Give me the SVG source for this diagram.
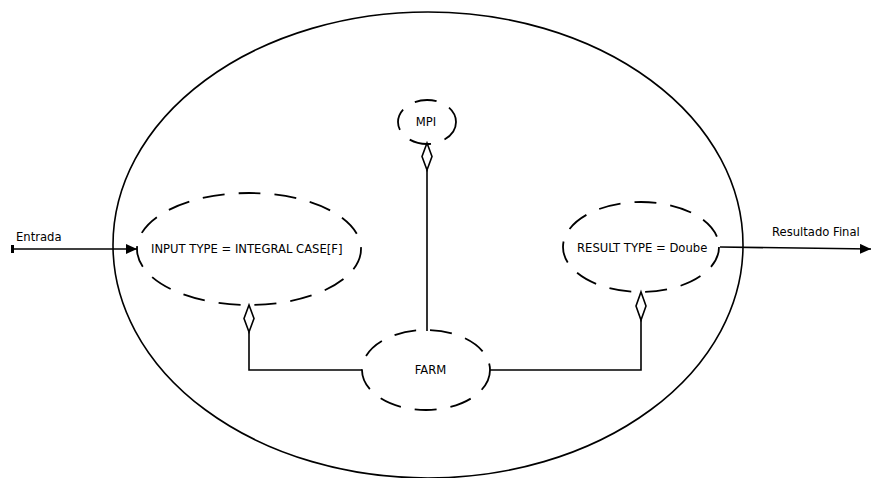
<svg xmlns="http://www.w3.org/2000/svg" width="871" height="478" viewBox="0 0 871 478">
  <style>
    .solid { fill: none; stroke: #000; stroke-width: 1.6; }
    .dash { fill: none; stroke: #000; stroke-width: 1.8; stroke-dasharray: 22 14; }
    .line { fill: none; stroke: #000; stroke-width: 1.6; }
    .dia { fill: #fff; stroke: #000; stroke-width: 1.6; }
    .lbl { font-family: "DejaVu Sans", sans-serif; font-size: 11.6px; fill: #000; }
  </style>
  <defs>
    <marker id="arrow" markerWidth="12" markerHeight="10" refX="11" refY="5" orient="auto" markerUnits="userSpaceOnUse">
      <path d="M0,0 L11,5 L0,10 Z" fill="#000"/>
    </marker>
  </defs>
  <rect width="871" height="478" fill="#fff"/>

  <!-- enclosing boundary -->
  <g id="boundary">
    <ellipse class="solid" cx="428" cy="245" rx="315" ry="233"/>
  </g>

  <g id="connectors">
    <!-- Entrada -->
    <line class="line" x1="12" y1="249" x2="137" y2="249" marker-end="url(#arrow)"/>
    <rect x="11" y="245" width="3" height="8" fill="#000"/>
    <text class="lbl" x="16" y="241">Entrada</text>
    <!-- Resultado Final -->
    <line class="line" x1="720" y1="247" x2="871" y2="249" marker-end="url(#arrow)"/>
    <text class="lbl" x="772" y="236">Resultado Final</text>
    <!-- MPI to FARM -->
    <line class="line" x1="427" y1="170" x2="427" y2="331"/>
    <path class="dia" d="M427,143 L432,156.5 L427,170 L422,156.5 Z"/>
    <!-- INPUT to FARM -->
    <polyline class="line" points="249,332 249,370 362,370"/>
    <path class="dia" d="M249,305 L254,318.5 L249,332 L244,318.5 Z"/>
    <!-- RESULT to FARM -->
    <polyline class="line" points="641,320 641,370 490,370"/>
    <path class="dia" d="M641,292 L646,306 L641,320 L636,306 Z"/>
  </g>

  <g id="mpi">
    <ellipse class="dash" cx="427" cy="122" rx="29" ry="22"/>
    <text class="lbl" x="426" y="126" text-anchor="middle">MPI</text>
  </g>

  <g id="input">
    <ellipse class="dash" cx="249" cy="249" rx="112" ry="56"/>
    <text class="lbl" x="151" y="253">INPUT TYPE = INTEGRAL CASE[F]</text>
  </g>

  <g id="result">
    <ellipse class="dash" cx="641" cy="247" rx="78" ry="45"/>
    <text class="lbl" x="577" y="252">RESULT TYPE = Doube</text>
  </g>

  <g id="farm">
    <ellipse class="dash" cx="426" cy="370" rx="64" ry="40"/>
    <text class="lbl" x="430.5" y="374" text-anchor="middle">FARM</text>
  </g>
</svg>
